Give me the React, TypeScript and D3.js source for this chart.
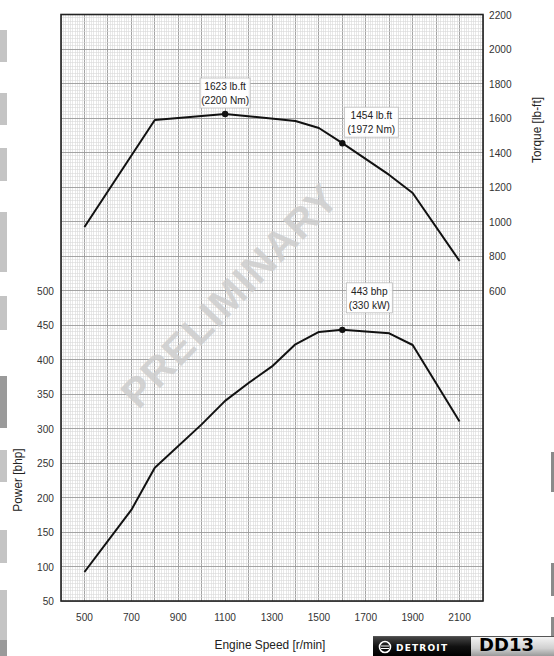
import React from "react";
import * as d3 from "d3";

const torqueRpm = [500, 800, 1100, 1400, 1500, 1600, 1800, 1900, 2100];
const torqueLbft = [968, 1588, 1623, 1583, 1542, 1454, 1270, 1165, 771];
const powerRpm = [500, 700, 800, 1000, 1100, 1200, 1300, 1400, 1500, 1600, 1800, 1900, 2100];
const powerBhp = [92, 182, 243, 306, 340, 366, 390, 422, 440, 443, 438, 421, 310];
const xTicks = [500, 700, 900, 1100, 1300, 1500, 1700, 1900, 2100];
const powerTicks = [50, 100, 150, 200, 250, 300, 350, 400, 450, 500];
const torqueTicks = [600, 800, 1000, 1200, 1400, 1600, 1800, 2000, 2200];
const peakTorque = { rpm: 1100, value: 1623, lines: ["1623 lb.ft", "(2200 Nm)"] };
const ratedTorque = { rpm: 1600, value: 1454, lines: ["1454 lb.ft", "(1972 Nm)"] };
const peakPower = { rpm: 1600, value: 443, lines: ["443 bhp", "(330 kW)"] };
const leftBars = [[30, 62, 0], [93, 125, 0], [148, 181, 0], [212, 272, 0], [296, 330, 0], [376, 428, 1], [450, 482, 0], [530, 563, 0], [590, 640, 0], [640, 656, 1]];
const rightMarks = [[452, 492], [563, 596], [617, 650]];

const W = 554, H = 656;
const L = 61, R = 483, T = 14.5, B = 601;
const FONT = "'Liberation Sans', Arial, sans-serif";
const SX = 0.88;

function NText({ x, y, anchor = "start", size = 11, fill = "#333", rotate = 0, children }: any) {
  return (
    <text
      transform={`translate(${x},${y}) rotate(${rotate}) scale(${SX},1)`}
      textAnchor={anchor}
      fontSize={size}
      fill={fill}
      fontFamily={FONT}
    >
      {children}
    </text>
  );
}

export default function App() {
  const x = d3.scaleLinear().domain([400, 2200]).range([L, R]);
  const yP = d3.scaleLinear().domain([50, 900]).range([B, T]);
  const yT = d3.scaleLinear().domain([-1200, 2200]).range([B, T]);

  const minorX = d3.range(400, 2201, 10);
  const minorY = d3.range(50, 901, 5);

  const tLine = d3.line<number>().x((_, i) => x(torqueRpm[i])).y((d) => yT(d))(torqueLbft) || "";
  const pLine = d3.line<number>().x((_, i) => x(powerRpm[i])).y((d) => yP(d))(powerBhp) || "";

  const box = (cx: number, yb: number, w: number, lines: string[]) => (
    <g>
      <rect x={cx - w / 2} y={yb - 30} width={w} height={30} fill="#fff" fillOpacity={0.92} stroke="#bbb" strokeWidth={0.8} />
      {lines.map((t, i) => (
        <NText key={i} x={cx} y={yb - 18 + i * 14} anchor="middle" size={11.5} fill="#222">{t}</NText>
      ))}
    </g>
  );

  return (
    <svg width={W} height={H} style={{ position: "absolute", left: 0, top: 0, background: "#fff" }}>
      {leftBars.map(([a, b, dk], i) => (
        <rect key={i} x={0} y={a} width={7} height={b - a} fill={dk ? "#9a9a9a" : "#c4c4c4"} />
      ))}
      {rightMarks.map(([a, b], i) => (
        <rect key={i} x={551} y={a} width={3} height={b - a} fill="#8a8a8a" />
      ))}
      <rect x={L} y={T} width={R - L} height={B - T} fill="#fff" />
      <g shapeRendering="crispEdges">
        {minorX.map((v) => (
          <line key={"vx" + v} x1={x(v)} x2={x(v)} y1={T} y2={B} stroke={v % 100 === 0 ? "#9a9a9a" : "#d9d9d9"} strokeWidth={v % 100 === 0 ? 0.9 : 0.6} />
        ))}
        {minorY.map((v) => (
          <line key={"hy" + v} x1={L} x2={R} y1={yP(v)} y2={yP(v)} stroke={v % 50 === 0 ? "#9a9a9a" : "#d9d9d9"} strokeWidth={v % 50 === 0 ? 0.9 : 0.6} />
        ))}
      </g>
      <rect x={L} y={T} width={R - L} height={B - T} fill="none" stroke="#222" strokeWidth={1.6} />

      <text x={232} y={298} transform="rotate(-46 232 298)" textAnchor="middle" dominantBaseline="middle" fontSize={41} fontWeight="bold" fill="#cdcdcd" fillOpacity={0.85} fontFamily="'Liberation Sans', Arial, sans-serif" letterSpacing={1}>PRELIMINARY</text>

      <path d={tLine} fill="none" stroke="#111" strokeWidth={2} strokeLinejoin="round" />
      <path d={pLine} fill="none" stroke="#111" strokeWidth={2} strokeLinejoin="round" />

      <circle cx={x(peakTorque.rpm)} cy={yT(peakTorque.value)} r={3.2} fill="#111" />
      <circle cx={x(ratedTorque.rpm)} cy={yT(ratedTorque.value)} r={3.2} fill="#111" />
      <circle cx={x(peakPower.rpm)} cy={yP(peakPower.value)} r={3.2} fill="#111" />

      {box(x(peakTorque.rpm), yT(peakTorque.value) - 6, 50, peakTorque.lines)}
      {box(x(ratedTorque.rpm) + 29, yT(ratedTorque.value) - 6, 54, ratedTorque.lines)}
      {box(x(peakPower.rpm) + 27, yP(peakPower.value) - 17, 46, peakPower.lines)}

      {xTicks.map((v) => (
        <NText key={"xt" + v} x={x(v)} y={621} anchor="middle" size={11.5}>{v}</NText>
      ))}
      {powerTicks.map((v) => (
        <NText key={"pt" + v} x={54} y={yP(v) + 4} anchor="end" size={11.5}>{v}</NText>
      ))}
      {torqueTicks.map((v) => (
        <NText key={"tt" + v} x={489} y={yT(v) + 4} anchor="start" size={11.5}>{v}</NText>
      ))}
      <NText x={270} y={649} anchor="middle" size={13.5} fill="#222">Engine Speed [r/min]</NText>
      <NText x={22} y={480} rotate={-90} anchor="middle" size={13.5} fill="#222">Power [bhp]</NText>
      <NText x={541} y={130} rotate={-90} anchor="middle" size={13.5} fill="#222">Torque [lb-ft]</NText>

      <g>
        <defs>
          <linearGradient id="blk" x1="0" y1="0" x2="0" y2="1">
            <stop offset="0" stopColor="#444" />
            <stop offset="0.5" stopColor="#111" />
            <stop offset="1" stopColor="#000" />
          </linearGradient>
          <linearGradient id="slv" x1="0" y1="0" x2="0" y2="1">
            <stop offset="0" stopColor="#f4f4f4" />
            <stop offset="0.6" stopColor="#d0d0d0" />
            <stop offset="1" stopColor="#9a9a9a" />
          </linearGradient>
        </defs>
        <rect x={373} y={637} width={98} height={19} fill="url(#blk)" />
        <rect x={471} y={637} width={83} height={19} fill="url(#slv)" />
        <line x1={373} x2={554} y1={636.5} y2={636.5} stroke="#555" strokeWidth={1} />
        <circle cx={385} cy={647} r={5.5} fill="none" stroke="#fff" strokeWidth={1.6} />
        <path d="M381,646 L389,646 M381,648.5 L389,648.5" stroke="#fff" strokeWidth={1.2} />
        <text x={396} y={651} fontSize={9} fontWeight="bold" fill="#fff" fontFamily="'DejaVu Sans', sans-serif" letterSpacing={1.2}>DETROIT</text>
        <text x={479} y={651} fontSize={18} fontWeight="bold" fill="#000" fontFamily="'DejaVu Sans', sans-serif" letterSpacing={0}>DD13</text>
      </g>
    </svg>
  );
}
